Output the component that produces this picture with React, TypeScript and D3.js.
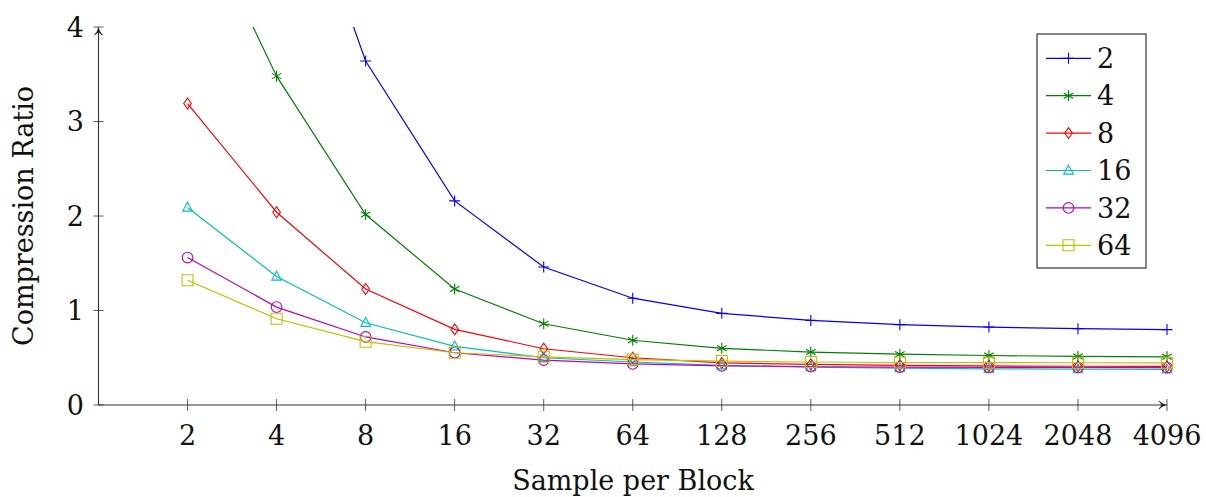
import React from "react";
import * as d3 from "d3";

const samples = [2, 4, 8, 16, 32, 64, 128, 256, 512, 1024, 2048, 4096];
const seriesNames = ["2", "4", "8", "16", "32", "64"];
const s2 = [10.5, 6.3, 3.64, 2.16, 1.46, 1.13, 0.97, 0.895, 0.85, 0.825, 0.808, 0.798];
const s4 = [5.45, 3.48, 2.015, 1.227, 0.86, 0.685, 0.6, 0.56, 0.538, 0.524, 0.514, 0.51];
const s8 = [3.19, 2.04, 1.227, 0.8, 0.595, 0.5, 0.445, 0.43, 0.42, 0.413, 0.41, 0.408];
const s16 = [2.09, 1.36, 0.87, 0.62, 0.5, 0.455, 0.42, 0.4, 0.39, 0.383, 0.379, 0.376];
const s32 = [1.56, 1.036, 0.72, 0.553, 0.475, 0.435, 0.415, 0.405, 0.4, 0.398, 0.397, 0.396];
const s64 = [1.32, 0.913, 0.67, 0.553, 0.51, 0.48, 0.465, 0.455, 0.45, 0.448, 0.447, 0.446];
const yTicks = [0, 1, 2, 3, 4];
const colors = ["#0000ff", "#008000", "#ff0000", "#00bfbf", "#bf00bf", "#bfbf00"];
const markers = ["plus", "asterisk", "diamond", "triangle", "circle", "square"];

const W = 1206;
const H = 497;
const FONT = "'DejaVu Serif', serif";
const FS = 27;

function markerPath(kind: string): string {
  switch (kind) {
    case "plus":
      return "M-5.5,0H5.5M0,-5.5V5.5";
    case "asterisk": {
      const a = 5.5;
      const c = a * Math.cos(Math.PI / 6);
      const s = a * Math.sin(Math.PI / 6);
      return `M0,-${a}V${a}M${-c},${-s}L${c},${s}M${-c},${s}L${c},${-s}`;
    }
    case "diamond":
      return "M0,-5.5L3.8,0L0,5.5L-3.8,0Z";
    case "triangle":
      return "M0,-5.3L4.8,3.6L-4.8,3.6Z";
    case "circle":
      return "M5.3,0A5.3,5.3 0 1 1 -5.3,0A5.3,5.3 0 1 1 5.3,0Z";
    case "square":
      return "M-5.5,-5.5H5.5V5.5H-5.5Z";
  }
  return "";
}

export default function App() {
  const data = [s2, s4, s8, s16, s32, s64];
  const x = d3.scaleLog().base(2).domain([1, 4096]).range([98.5, 1167]);
  const y = d3.scaleLinear().domain([0, 4]).range([405, 27]);
  const line = d3
    .line<number>()
    .x((_, i) => x(samples[i]))
    .y((d) => y(d));
  const x0 = x(1);
  const x1 = x(4096);
  const yb = y(0);
  const yt = y(4);
  const axisColor = "#333";

  const legX = 1037;
  const legY = 34;
  const legW = 109;
  const legH = 234;
  const legRow = 37.4;
  const legFirst = 58.3;

  return (
    <svg width={W} height={H} style={{ position: "absolute", left: 0, top: 0 }} fontFamily={FONT}>
      <defs>
        <clipPath id="plotclip">
          <rect x={x0} y={yt} width={W - x0} height={H - yt} />
        </clipPath>
      </defs>
      <rect x={0} y={0} width={W} height={H} fill="#fff" />

      {/* axes */}
      <line x1={x0} y1={yb} x2={x1 - 2} y2={yb} stroke={axisColor} strokeWidth={1.1} />
      <line x1={x0} y1={yb} x2={x0} y2={yt + 2} stroke={axisColor} strokeWidth={1.1} />
      <path d={`M${x1 - 8},${yb - 4}Q${x1 - 4},${yb} ${x1},${yb}Q${x1 - 4},${yb} ${x1 - 8},${yb + 4}L${x1 - 5},${yb}Z`} fill="#111" stroke="#111" strokeWidth={0.6} strokeLinejoin="round" />
      <path d={`M${x0 - 4},${yt + 8}Q${x0},${yt + 4} ${x0},${yt}Q${x0},${yt + 4} ${x0 + 4},${yt + 8}L${x0},${yt + 5}Z`} fill="#111" stroke="#111" strokeWidth={0.6} strokeLinejoin="round" />

      {yTicks.map((t) => (
        <g key={"yt" + t}>
          <line x1={x0 - 5} x2={x0 + 5} y1={y(t)} y2={y(t)} stroke={axisColor} strokeWidth={0.8} />
          <text x={84} y={y(t)} dy="0.36em" textAnchor="end" fontSize={FS} fill="#111">
            {t}
          </text>
        </g>
      ))}
      {samples.map((s) => (
        <g key={"xt" + s}>
          <line x1={x(s)} x2={x(s)} y1={yb - 6} y2={yb + 6} stroke={axisColor} strokeWidth={0.8} />
          <text x={x(s)} y={445} textAnchor="middle" fontSize={FS} fill="#111">
            {s}
          </text>
        </g>
      ))}

      <text x={633} y={490} textAnchor="middle" fontSize={FS} fill="#111">
        Sample per Block
      </text>
      <text transform={`translate(33,216) rotate(-90)`} textAnchor="middle" fontSize={FS} fill="#111">
        Compression Ratio
      </text>

      {/* series */}
      <g clipPath="url(#plotclip)">
        {data.map((vals, si) => (
          <g key={"s" + si}>
            <path d={line(vals) || ""} fill="none" stroke={colors[si]} strokeWidth={1.2} />
            {vals.map((v, i) =>
              v <= 4 ? (
                <path
                  key={i}
                  d={markerPath(markers[si])}
                  transform={`translate(${x(samples[i])},${y(v)})`}
                  fill="none"
                  stroke={colors[si]}
                  strokeWidth={1.1}
                />
              ) : null
            )}
          </g>
        ))}
      </g>

      {/* legend */}
      <rect x={legX} y={legY} width={legW} height={legH} fill="#fff" stroke="#222" strokeWidth={1.1} />
      {seriesNames.map((n, i) => {
        const cy = legFirst + i * legRow;
        return (
          <g key={"lg" + n}>
            <line x1={1046} x2={1091} y1={cy} y2={cy} stroke={colors[i]} strokeWidth={1.2} />
            <path d={markerPath(markers[i])} transform={`translate(1068.5,${cy})`} fill="none" stroke={colors[i]} strokeWidth={1.1} />
            <text x={1097} y={cy} dy="0.36em" fontSize={FS} fill="#111">
              {n}
            </text>
          </g>
        );
      })}
    </svg>
  );
}
